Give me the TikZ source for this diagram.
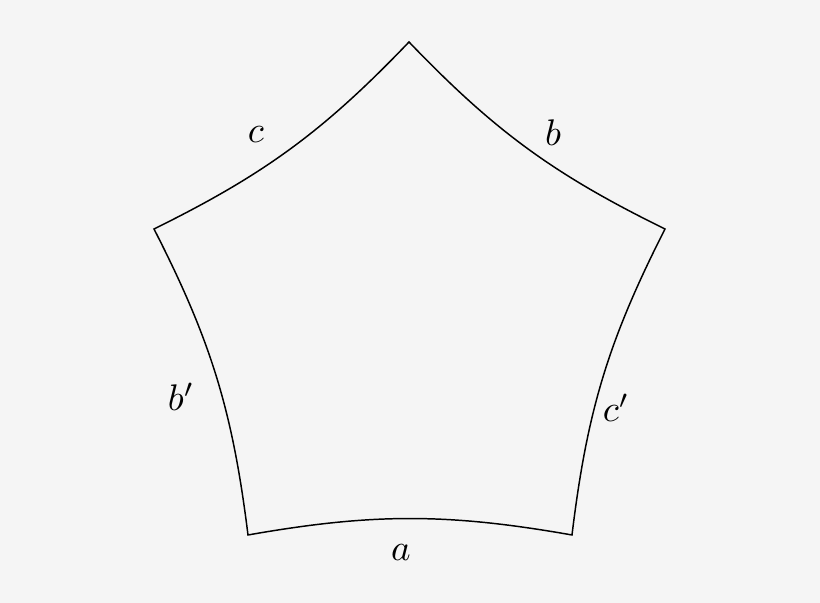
\documentclass[tikz,border=0pt]{standalone}
\definecolor{bgc}{HTML}{F5F5F5}
\begin{document}
\begin{tikzpicture}[x=0.27pt,y=-0.27pt,
  edge/.style={draw=black,line width=0.4pt,line join=miter},
  lab/.style={inner sep=0pt}]
\fill[bgc] (0,0) rectangle (820,603);
\useasboundingbox (0,0) rectangle (820,603);
\coordinate (T) at (409,42);
\coordinate (UR) at (665,229);
\coordinate (LR) at (572,535);
\coordinate (LL) at (248,535);
\coordinate (UL) at (154,229);
\draw[edge] (T) to[bend right=10] (UR) to[bend right=10] (LR) to[bend right=10] (LL) to[bend right=10] (UL) to[bend right=10] (T) -- cycle;
\node[lab] (lc) at (256,135) {$c$};
\node[lab] (lb) at (553,133) {$b$};
\node[lab] (lbp) at (181,397) {$b'$};
\node[lab] (lcp) at (616,408) {$c'$};
\node[lab] (la) at (401,553) {$a$};
\end{tikzpicture}
\end{document}
